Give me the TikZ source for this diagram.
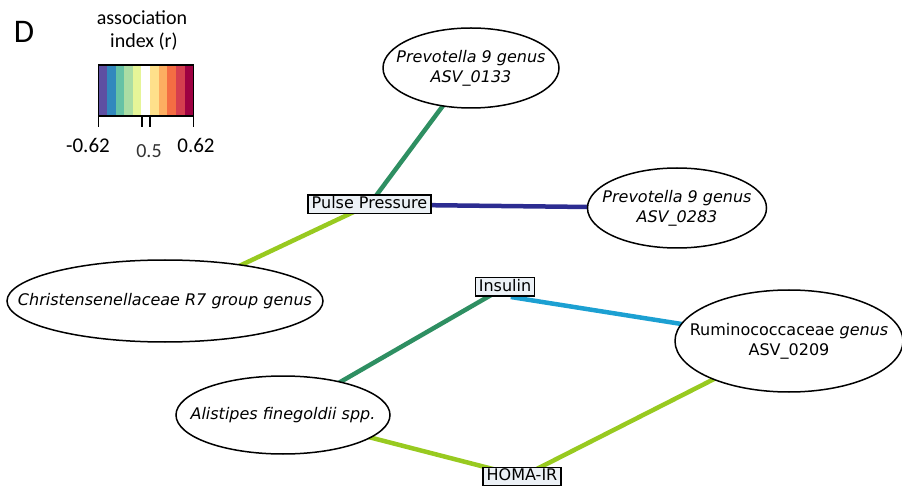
\documentclass[tikz,border=0pt]{standalone}
\usepackage{fontspec}
\setmainfont{DejaVu Sans}
\newfontfamily\cbfont{Carlito}
\usetikzlibrary{shapes.geometric}
\pgfdeclarelayer{background}
\pgfsetlayers{background,main}

\definecolor{seagrn}{RGB}{46,143,98}
\definecolor{navyblu}{RGB}{44,44,145}
\definecolor{ylwgrn}{RGB}{152,202,32}
\definecolor{skyblu}{RGB}{28,160,210}
\definecolor{boxfill}{RGB}{236,241,246}

\tikzset{
  oval/.style={ellipse, draw, line width=1.5pt, fill=white, inner sep=0pt},
  taxon/.style={align=center, inner sep=0pt, font=\fontsize{16}{20}\selectfont\itshape},
  clin/.style={rectangle, draw, line width=1.5pt, fill=boxfill, inner xsep=3.5pt, inner ysep=1.5pt,
    text height=12pt, text depth=3.5pt, font=\fontsize{16}{19}\selectfont},
  assoc/.style={line width=4.5pt},
  cblab/.style={font=\cbfont\fontsize{20}{20}\selectfont, inner sep=0pt}
}

\begin{document}
\begin{tikzpicture}[x=1pt, y=-1pt]
  \useasboundingbox (0,0) rectangle (902,486);

  % colour key
  \node[font=\cbfont\fontsize{33}{33}\selectfont, inner sep=0pt] (panel) at (24,32) {D};
  \node[cblab] (keytop) at (142,18) {association};
  \node[cblab] (keybot) at (144,42) {index (r)};
  \foreach \c [count=\i from 0] in {5E4FA2,3288BD,66C2A5,ABDDA4,E6F598,FFFFFF,FEE08B,FDAE61,F46D43,D53E4F,9E0142}{
    \definecolor{stripe}{HTML}{\c}
    \fill[stripe] (98.3+\i*8.636,65) rectangle ++(8.636,51);
  }
  \draw[line width=1.3pt] (98.3,65) rectangle (193.3,116);
  \draw[line width=1.3pt] (98.3,116) -- (98.3,127);
  \draw[line width=1.3pt] (142,116) -- (142,127);
  \draw[line width=1.3pt] (150,116) -- (150,127);
  \draw[line width=1.3pt] (193.3,116) -- (193.3,127);
  \node[cblab, font=\cbfont\fontsize{21}{21}\selectfont] (kmin) at (88,145) {-0.62};
  \node[cblab, font=\cbfont\fontsize{20}{20}\selectfont, text=black!80] (kmid) at (149,151) {0.5};
  \node[cblab, font=\cbfont\fontsize{21}{21}\selectfont] (kmax) at (196,145) {0.62};

  % taxa
  \node[oval, minimum width=176, minimum height=80] (p133) at (471,68) {};
  \node[taxon] (p133t) at (p133) {Prevotella 9 genus\\ASV\_0133};
  \node[oval, minimum width=179, minimum height=80] (p283) at (677,208) {};
  \node[taxon] (p283t) at (p283) {Prevotella 9 genus\\ASV\_0283};
  \node[oval, minimum width=316, minimum height=82] (chr) at (165,301) {};
  \node[taxon] (chrt) at (chr) {Christensenellaceae R7 group genus};
  \node[oval, minimum width=228, minimum height=102] (rum) at (789,341) {};
  \node[taxon, font=\fontsize{16}{20}\selectfont] (rumt) at (rum) {Ruminococcaceae \textit{genus}\\ASV\_0209};
  \node[oval, minimum width=214, minimum height=78] (ali) at (283,415) {};
  \node[taxon] (alit) at (ali) {Alistipes finegoldii spp.};

  % clinical traits
  \node[clin] (pp) at (369.5,204.5) {Pulse Pressure};
  \node[clin] (ins) at (505,287) {Insulin};
  \node[clin] (homa) at (522,476.5) {HOMA-IR};

  % associations
  \begin{pgfonlayer}{background}
    \draw[assoc, seagrn] (pp.center) -- (p133.center);
    \draw[assoc, navyblu] (pp.center) -- (p283.center);
    \draw[assoc, ylwgrn] (pp.center) -- (chr.center);
    \draw[assoc, skyblu] (ins.-60) -- (rum.center);
    \draw[assoc, seagrn] (ins.center) -- (ali.center);
    \draw[assoc, ylwgrn] (ali.center) -- (homa.center);
    \draw[assoc, ylwgrn] (homa.center) -- (rum.center);
  \end{pgfonlayer}
\end{tikzpicture}
\end{document}
